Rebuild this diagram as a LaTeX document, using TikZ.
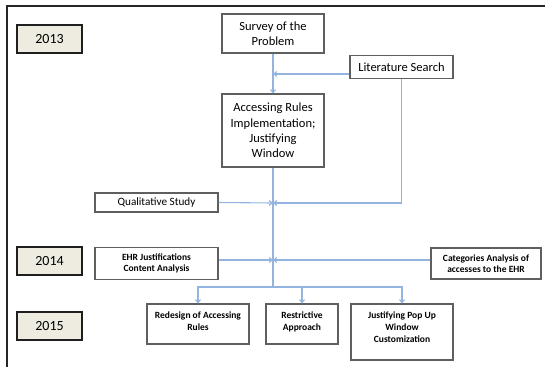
\documentclass[tikz,border=0pt]{standalone}
\usepackage{fontspec}
\setmainfont{Carlito}
\usetikzlibrary{arrows.meta}
\definecolor{flowblue}{RGB}{146,180,222}
\definecolor{yearfill}{RGB}{238,236,225}
\definecolor{boxgray}{RGB}{95,95,95}
\begin{document}
\begin{tikzpicture}[x=1pt,y=-1pt,
  yearbox/.style={draw=black!88,line width=1.8pt,fill=yearfill,minimum width=65pt,minimum height=28pt,inner sep=0pt,font=\fontsize{14}{16}\selectfont},
  stagebox/.style={draw=boxgray,line width=1.1pt,fill=white,inner sep=1pt,align=center},
  bigtext/.style={font=\fontsize{12.5}{15.3}\selectfont},
  midtext/.style={font=\fontsize{11.2}{13}\selectfont},
  smalltext/.style={font=\bfseries\fontsize{9.5}{11.6}\selectfont},
  flow/.style={draw=flowblue,line width=1.1pt},
  conn/.style={flow,-{Straight Barb[length=3pt,width=5pt]}}]
\useasboundingbox (0,0) rectangle (545,367);
% outer frame (top and left edges)
\draw[line width=2pt,black!85] (6.5,367) -- (6.5,5.5) -- (545,5.5);

% year labels
\node[yearbox] (y2013) at (49.5,39) {2013};
\node[yearbox] (y2014) at (49.5,261) {2014};
\node[yearbox] (y2015) at (49.5,326) {2015};

% stages
\node[stagebox,bigtext,minimum width=102pt,minimum height=39pt] (survey) at (273,33.5) {Survey of the\\Problem};
\node[stagebox,bigtext,minimum width=102pt,minimum height=73pt] (access) at (273,130.5) {Accessing Rules\\Implementation;\\Justifying\\Window};
\node[stagebox,bigtext,minimum width=103pt,minimum height=23pt] (lit) at (401.5,67) {Literature Search};
\node[stagebox,midtext,minimum width=123pt,minimum height=19pt] (qual) at (156.5,202.5) {Qualitative Study};
\node[stagebox,smalltext,minimum width=123pt,minimum height=32pt] (ehr) at (156.5,263.5) {EHR Justifications\\Content Analysis};
\node[stagebox,smalltext,minimum width=110pt,minimum height=31pt] (cat) at (486,263.5) {Categories Analysis of\\accesses to the EHR};
\node[stagebox,smalltext,minimum width=102pt,minimum height=40pt] (redesign) at (198,324) {Redesign of Accessing\\Rules\\[-6pt]\mbox{}};
\node[stagebox,smalltext,minimum width=72pt,minimum height=40pt] (restrict) at (302,324) {Restrictive\\Approach\\[-6pt]\mbox{}};
\node[stagebox,smalltext,minimum width=102pt,minimum height=56pt] (popup) at (402,332) {Justifying Pop Up\\Window\\Customization\\[-2pt]\mbox{}};

% junction points on the main line
\coordinate (litj) at (273,74);
\coordinate (qj) at (273,203);
\coordinate (ej) at (273,260);
\coordinate (split) at (273,287);

% connectors
\draw[conn] (survey) -- (access);
\draw[conn] ([yshift=-7pt]lit.west) -- (litj);
\draw[flow] (access.south) -- (split);
\draw[conn] (lit.south) |- (qj);
\draw[conn] (qual.east) -- (qj);
\draw[conn] ([yshift=3.5pt]ehr.east) -- (ej);
\draw[conn] ([yshift=3.5pt]cat.west) -- (ej);
\draw[conn] (split) -| (redesign.north);
\draw[conn] (split) -| (restrict.north);
\draw[conn] (split) -| (popup.north);
\end{tikzpicture}
\end{document}
